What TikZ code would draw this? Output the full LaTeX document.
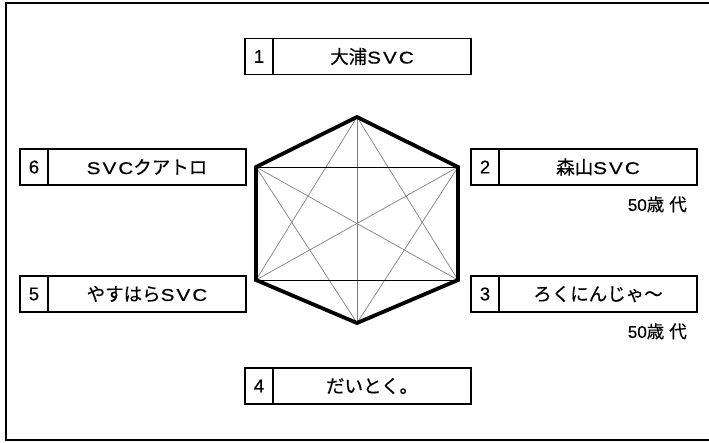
\documentclass[tikz,border=0pt]{standalone}
\usepackage{fontspec}
\setmainfont[FakeBold=0.4]{Noto Sans CJK JP}
\newfontfamily\latin[FakeBold=0.4]{Liberation Sans}
\newfontfamily\widelatin[FakeStretch=1.22,FakeBold=0.4]{Liberation Sans}
\newcommand\svc{{\widelatin\fontsize{17}{17}\selectfont S\kern2pt V\kern2pt C}}
\usetikzlibrary{positioning}

\begin{document}
\begin{tikzpicture}[x=1pt,y=-1pt,
  numcell/.style={draw,line width=1.5pt,minimum width=28pt,minimum height=36pt,inner sep=0pt,outer sep=0pt,font=\latin\fontsize{18.5}{18.5}\selectfont},
  namecell/.style={draw,line width=1.5pt,minimum width=198pt,minimum height=36pt,inner sep=0pt,outer sep=0pt,font=\fontsize{18.5}{18.5}\selectfont},
  agenote/.style={anchor=north east,inner sep=0pt,font=\fontsize{17.5}{17.5}\selectfont}]
\useasboundingbox (0,0) rectangle (709,442);
\draw[line width=2pt] (6,3.3) rectangle (716,439.5);
% hexagon corners
\coordinate (h1) at (357,117);
\coordinate (h2) at (458,167);
\coordinate (h3) at (458,280);
\coordinate (h4) at (357,323);
\coordinate (h5) at (256,280);
\coordinate (h6) at (256,167);
\foreach \a/\b in {h1/h3,h1/h4,h1/h5,h2/h4,h2/h5,h3/h6,h4/h6}
  \draw[gray,line width=0.7pt] (\a) -- (\b);
\draw[line width=0.9pt] (h6) -- (h2) (h5) -- (h3);
\draw[line width=3.8pt,line join=miter] (h1) -- (h2) -- (h3) -- (h4) -- (h5) -- (h6) -- cycle;
% boxes
\foreach \x/\y/\t[count=\i] in {
 245/56.5/大浦\svc,
 471/167/森山\svc,
 471/294/ろくにんじゃ〜,
 245/386/だいとく。,
 20/294/やすはら\svc,
 20/167/\svc クアトロ
}
\node at(\x,\y)[numcell,anchor=west](n\i){\i}
    node[namecell,right=0pt of n\i](c\i){\t};
\node at(c2.south east)[agenote,xshift=-10pt,yshift=-11pt](a2){{\latin\fontsize{17}{17}\selectfont 50}歳\kern5pt 代};
\node at(c3.south east)[agenote,xshift=-10pt,yshift=-11pt](a3){{\latin\fontsize{17}{17}\selectfont 50}歳\kern5pt 代};
\end{tikzpicture}
\end{document}
